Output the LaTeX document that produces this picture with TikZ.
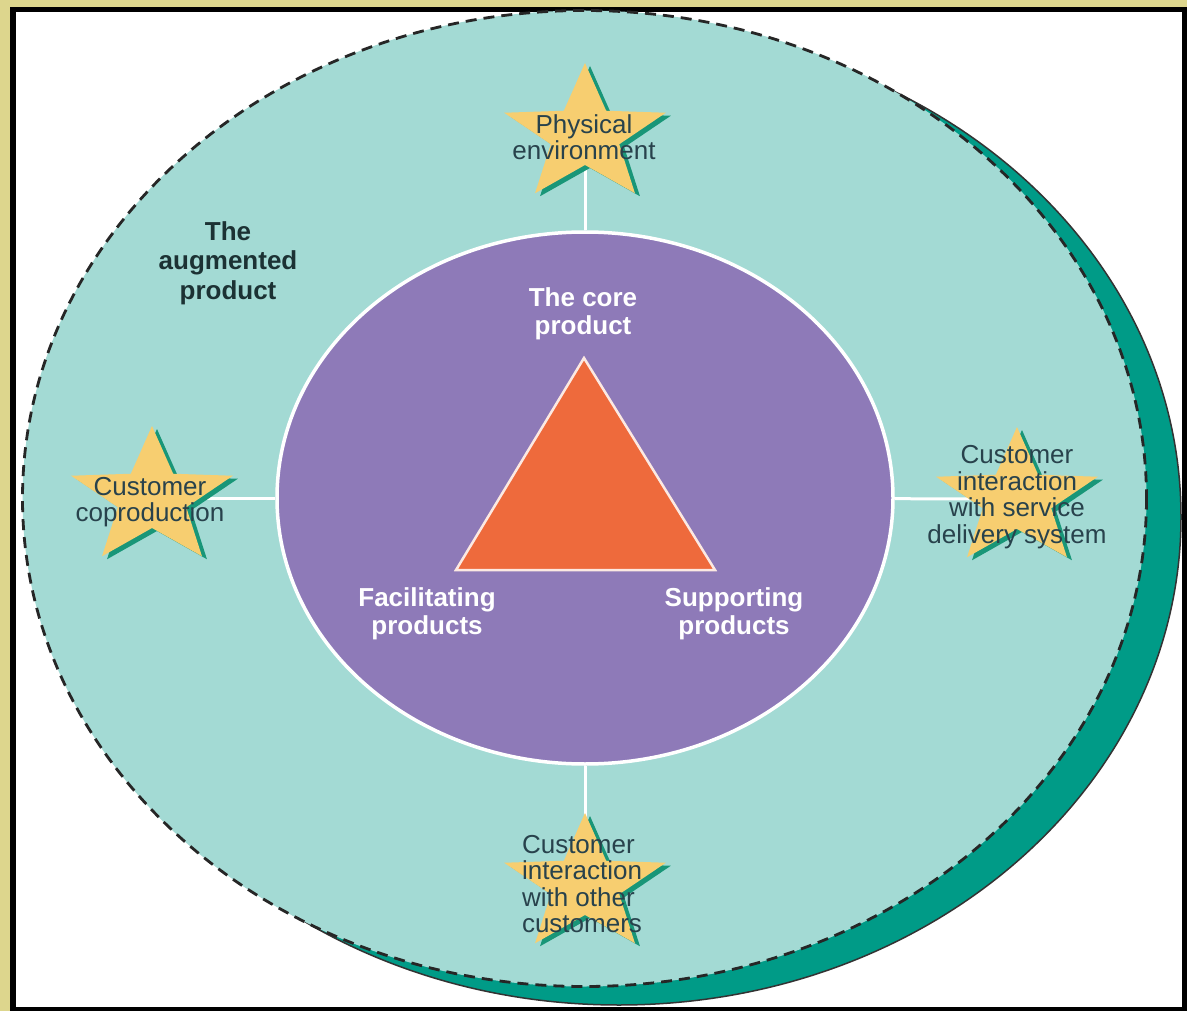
\documentclass[tikz,border=0pt]{standalone}
\usepackage{fontspec}
\setmainfont{Liberation Sans}
\usetikzlibrary{shapes.geometric}

\definecolor{khaki}{RGB}{221,214,141}
\definecolor{lagoon}{RGB}{163,218,212}
\definecolor{deepteal}{RGB}{0,155,135}
\definecolor{corepurple}{RGB}{142,122,184}
\definecolor{coreorange}{RGB}{238,106,60}
\definecolor{staryellow}{RGB}{247,206,112}
\definecolor{starteal}{RGB}{25,150,120}
\definecolor{slate}{RGB}{40,66,76}
\definecolor{inkteal}{RGB}{28,50,52}

\begin{document}
\begin{tikzpicture}[x=1pt,y=-1pt,
  ring/.style={fill=lagoon,draw=black!85,line width=2.8pt,dash pattern=on 11pt off 7pt},
  hub/.style={ellipse,fill=corepurple,draw=white,line width=3.5pt,minimum width=616pt,minimum height=532pt,inner sep=0pt},
  link/.style={draw=white,line width=3pt},
  tag/.style={align=center,text=slate,font=\fontsize{26}{26.5}\selectfont},
  inlbl/.style={align=center,text=white,font=\bfseries\fontsize{26}{28.5}\selectfont},
  pics/badge/.style={code={
    \foreach \dx/\dy/\tint in {5/3/starteal,0/0/staryellow}
      \fill[\tint,shift={(\dx,\dy)}] (270:85 and 72) -- (306:36 and 30) -- (342:85 and 72)
        -- (18:36 and 30) -- (54:85 and 72) -- (90:36 and 30) -- (126:85 and 72)
        -- (162:36 and 30) -- (198:85 and 72) -- (234:36 and 30) -- cycle;
  }}
]
\useasboundingbox (0,0) rectangle (1187,1011);

% frame
\fill[khaki] (0,0) rectangle (1187,1011);
\draw[line width=5.5pt,fill=white] (13,9.5) rectangle (1185,1009.5);

% augmented product ring and its shadow
\draw[fill=deepteal,draw=black!80,line width=1.5pt] (619,517) ellipse [x radius=562,y radius=488];
\draw[ring] (584.5,498.5) ellipse [x radius=562,y radius=488];
\node[font=\bfseries\fontsize{26}{29.5}\selectfont,text=inkteal,align=center] (aug) at (228,263) {The\\augmented\\product};

% core product
\node[hub] (core) at (585,498) {};

\coordinate (phys) at (585,135);
\coordinate (copro) at (152,498);
\coordinate (servint) at (1017,499);
\coordinate (custint) at (585,885);

\draw[link] (phys) -- (core);
\draw[link] (copro) -- (core);
\draw[link] (servint) -- (core);
\draw[link] (custint) -- (core);

\pic at (phys) {badge};
\pic at (copro) {badge};
\pic at (servint) {badge};
\pic at (custint) {badge};

\node[tag] (physlbl) at (584,137) {Physical\\environment};
\node[tag] (coprolbl) at (150,502) {Customer\\coproduction};
\node[tag] (servlbl) at (1017,497) {Customer\\interaction\\with service\\delivery system};
\node[tag,align=left] (custlbl) at (582,884) {Customer\\interaction\\with other\\customers};

\filldraw[fill=coreorange,draw=white!85!coreorange,line width=2.5pt] (584,358) -- (456,570) -- (715,570) -- cycle;

\node[inlbl] (corelbl) at (583,314) {The core\\product};
\node[inlbl] (facil) at (427,614) {Facilitating\\products};
\node[inlbl] (supp) at (734,614) {Supporting\\products};
\end{tikzpicture}
\end{document}
